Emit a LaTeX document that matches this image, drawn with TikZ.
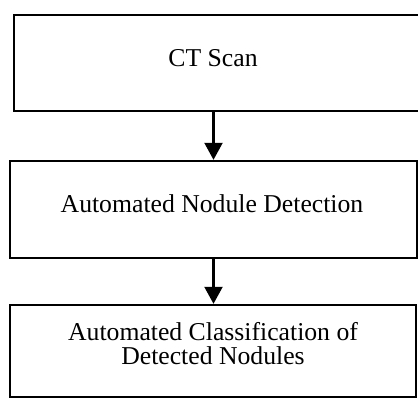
\documentclass[tikz,border=0pt]{standalone}
\usepackage{fontspec}
\setmainfont{Liberation Serif}
\usetikzlibrary{arrows.meta}
\begin{document}
\begin{tikzpicture}[x=1pt,y=1pt,
  stage/.style={draw=black, line width=2.4pt, inner sep=0pt, fill=none},
  label/.style={font=\fontsize{25.7}{24}\selectfont, inner sep=0pt, anchor=base, align=center},
  flow/.style={line width=2.2pt, -{Triangle[width=18pt,length=17pt]}}]
  \useasboundingbox (0,0) rectangle (418,401);
  \clip (0,0) rectangle (418,401);
  % process boxes
  \node[stage, minimum width=411pt, minimum height=96pt] (b1) at (219.5,338) {};
  \node[stage, minimum width=407pt, minimum height=97pt] (b2) at (213.5,191.5) {};
  \node[stage, minimum width=406pt, minimum height=92pt] (b3) at (213,50) {};
  % captions (a multi-line caption sits on the baseline of its last line)
  \node[label] (t1) at (213,334) {CT Scan};
  \node[label] (t2) at (212,188) {Automated Nodule Detection};
  \node[label] (t3) at (213,36) {Automated Classification of\\Detected Nodules};
  % connectors
  \draw[flow] (b1.south -| b2.north) -- (b2.north);
  \draw[flow] (b2.south) -- (b3.north -| b2.south);
\end{tikzpicture}
\end{document}
